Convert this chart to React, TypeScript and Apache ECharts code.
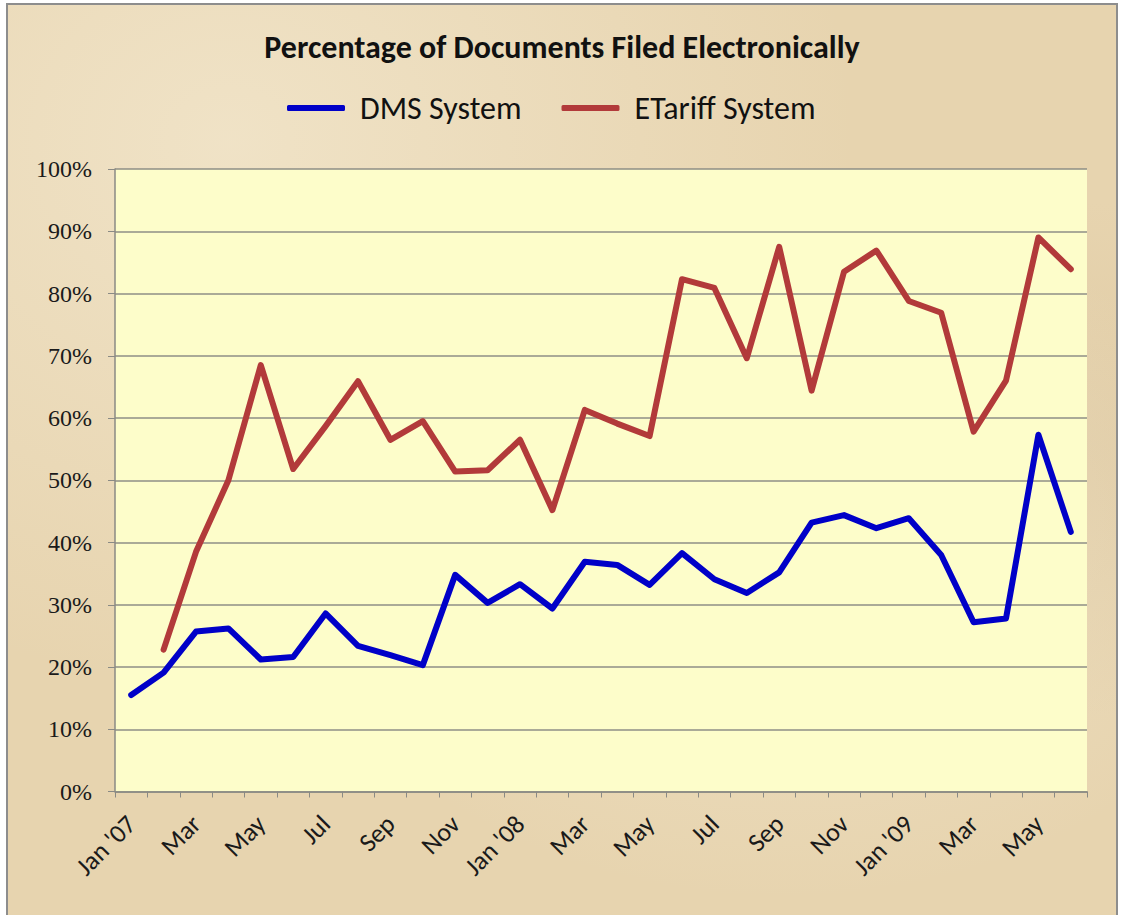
import React, { useEffect, useRef } from "react";
import * as echarts from "echarts";

const months: string[] = [
  "Jan '07", "Feb", "Mar", "Apr", "May", "Jun", "Jul", "Aug", "Sep", "Oct", "Nov", "Dec",
  "Jan '08", "Feb", "Mar", "Apr", "May", "Jun", "Jul", "Aug", "Sep", "Oct", "Nov", "Dec",
  "Jan '09", "Feb", "Mar", "Apr", "May", "Jun",
];

const dmsSystem: number[] = [
  15.5, 19.1, 25.7, 26.2, 21.2, 21.6, 28.6, 23.4, 21.9, 20.3, 34.8, 30.3,
  33.3, 29.4, 36.9, 36.4, 33.2, 38.3, 34.1, 31.9, 35.2, 43.2, 44.4, 42.3,
  43.9, 38.0, 27.2, 27.8, 57.3, 41.7,
];

const etariffSystem: (number | null)[] = [
  null, 22.8, 38.5, 50.0, 68.5, 51.8, 58.7, 65.9, 56.5, 59.5, 51.4, 51.6,
  56.5, 45.2, 61.3, 59.1, 57.1, 82.3, 80.9, 69.6, 87.5, 64.4, 83.5, 86.9,
  78.8, 76.9, 57.8, 66.0, 89.0, 83.9,
];

const titleText = "Percentage of Documents Filed Electronically";
const seriesNames = ["DMS System", "ETariff System"];

const sansFont = "Carlito, Lato, 'Open Sans', sans-serif";
const serifFont = "'Liberation Serif', 'DejaVu Serif', serif";

export default function App() {
  const ref = useRef<HTMLDivElement>(null);

  useEffect(() => {
    if (!ref.current) return;
    const chart = echarts.init(ref.current, undefined, { renderer: "svg" });
    chart.setOption({
      animation: false,
      backgroundColor: "transparent",
      title: {
        text: titleText,
        left: "center",
        top: 26,
        padding: 0,
        textStyle: {
          fontFamily: sansFont,
          fontSize: 32,
          fontWeight: "bold",
          color: "#111",
        },
      },
      legend: {
        left: 279,
        top: 87,
        padding: 0,
        itemGap: 40,
        itemWidth: 58,
        itemHeight: 6,
        icon: "roundRect",
        textStyle: {
          fontFamily: sansFont,
          fontSize: 32,
          color: "#111",
          padding: [0, 0, 0, 10],
        },
        data: seriesNames,
      },
      grid: {
        left: 107,
        right: 29,
        top: 164,
        bottom: 123.5,
        show: true,
        backgroundColor: "#fdfdca",
        borderWidth: 0,
      },
      xAxis: {
        type: "category",
        data: months,
        boundaryGap: true,
        axisLine: { show: true, lineStyle: { color: "#8a8a84", width: 1.5 } },
        axisTick: { show: true, interval: 0, length: 6, lineStyle: { color: "#8a8a84" } },
        axisLabel: {
          interval: 1,
          rotate: 45,
          margin: 28,
          fontFamily: sansFont,
          fontSize: 26,
          color: "#1a1a1a",
        },
        splitLine: { show: false },
      },
      yAxis: {
        type: "value",
        min: 0,
        max: 100,
        interval: 10,
        axisLine: { show: true, lineStyle: { color: "#8a8a84", width: 1.5 } },
        axisTick: { show: true, length: 7, lineStyle: { color: "#8a8a84" } },
        axisLabel: {
          formatter: "{value}%",
          margin: 23,
          fontFamily: serifFont,
          fontSize: 24,
          color: "#1a1a1a",
        },
        splitLine: { show: true, lineStyle: { color: "#8e8e86", width: 1.5 } },
      },
      series: [
        {
          name: seriesNames[0],
          type: "line",
          data: dmsSystem,
          symbol: "none",
          color: "#0000c8",
          lineStyle: { color: "#0000c8", width: 6, cap: "round", join: "round" },
        },
        {
          name: seriesNames[1],
          type: "line",
          data: etariffSystem,
          symbol: "none",
          color: "#b23a3a",
          lineStyle: { color: "#b23a3a", width: 6, cap: "round", join: "round" },
        },
      ],
    });
    return () => chart.dispose();
  }, []);

  return (
    <div
      style={{
        position: "absolute",
        left: 6,
        top: 3,
        width: 1112,
        height: 912,
        boxSizing: "border-box",
        borderTop: "2px solid #8d8d8d",
        borderLeft: "2px solid #8d8d8d",
        borderRight: "2px solid #8d8d8d",
        overflow: "hidden",
        background:
          "radial-gradient(ellipse at 20% 15%, rgba(242,230,204,0.8) 0%, rgba(242,230,204,0) 50%), radial-gradient(ellipse at 70% 60%, rgba(240,228,202,0.7) 0%, rgba(240,228,202,0) 45%), radial-gradient(ellipse at 95% 50%, rgba(218,196,156,0.6) 0%, rgba(218,196,156,0) 40%), #e7d4af",
      }}
    >
      <div ref={ref} style={{ width: 1108, height: 910 }} />
    </div>
  );
}
